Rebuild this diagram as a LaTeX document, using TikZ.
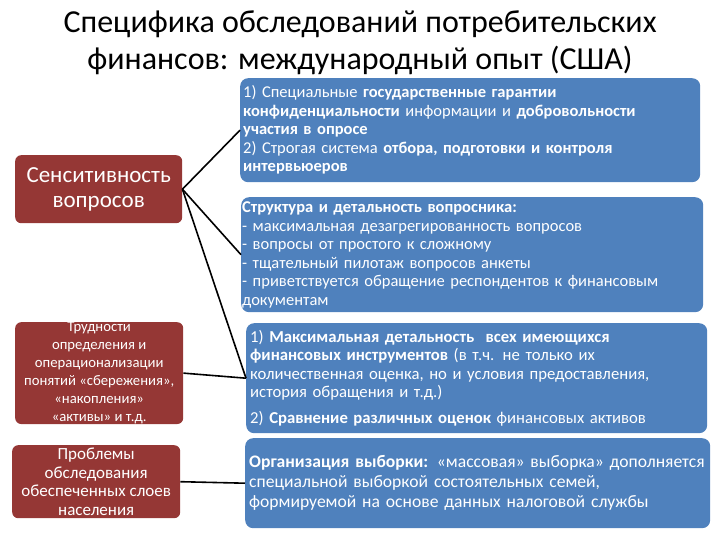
\documentclass[tikz,border=0pt]{standalone}
\usepackage{fontspec}
\setmainfont{Carlito}
\definecolor{boxblue}{HTML}{4F81BD}
\definecolor{boxred}{HTML}{953735}
\begin{document}
\begin{tikzpicture}[x=1pt, y=-1pt,
  redbox/.style={fill=boxred, rounded corners=6pt, text=white, align=center, anchor=north west, inner sep=0pt},
  bluebox/.style={fill=boxblue, rounded corners=8pt, text=white, align=left, anchor=north west, inner xsep=3pt, inner ysep=0pt},
  link/.style={line width=1.6pt}]
\useasboundingbox (0,0) rectangle (720,540);
\node[font=\fontsize{32}{37}\selectfont, align=center] (title) at (360,43) {Специфика обследований потребительских\\финансов: международный опыт (США)};

\node[redbox, minimum width=167pt, minimum height=68pt, font=\fontsize{23}{25}\selectfont] (sens) at (15,155) {Сенситивность\\вопросов};
\node[redbox, minimum width=168pt, minimum height=95pt, font=\fontsize{14.7}{18}\selectfont] (terms) at (15,322) {Трудности\\определения и\\операционализации\\понятий «сбережения»,\\«накопления»\\«активы» и т.д.};
\node[redbox, minimum width=168pt, minimum height=73pt, font=\fontsize{17}{18.5}\selectfont] (rich) at (12,445) {Проблемы\\обследования\\обеспеченных слоев\\населения};

\node[bluebox, text width=454pt, minimum height=104pt, font=\fontsize{16.5}{18.5}\selectfont] (guar) at (240,78) {1) Специальные \textbf{государственные гарантии}\\\textbf{конфиденциальности} информации и \textbf{добровольности}\\\textbf{участия в опросе}\\2) Строгая система \textbf{отбора, подготовки и контроля}\\\textbf{интервьюеров}};
\node[bluebox, inner xsep=1pt, text width=460pt, minimum height=115pt, font=\fontsize{16.5}{18.5}\selectfont] (struct) at (241,197) {\textbf{Структура и детальность вопросника:}\\- максимальная дезагрегированность вопросов\\- вопросы от простого к сложному\\- тщательный пилотаж вопросов анкеты\\- приветствуется обращение респондентов к финансовым\\документам};
\node[bluebox, inner xsep=4pt, text width=453pt, minimum height=110pt, font=\fontsize{16.7}{18.5}\selectfont] (detail) at (246,323) {1) \textbf{Максимальная детальность\ \ всех имеющихся}\\\textbf{финансовых инструментов} (в т.ч. не только их\\количественная оценка, но и условия предоставления,\\история обращения и т.д.)\\[7pt]2) \textbf{Сравнение различных оценок} финансовых активов};
\node[bluebox, inner xsep=4pt, text width=457pt, minimum height=90pt, font=\fontsize{17.6}{20}\selectfont] (sample) at (245,438) {\textbf{Организация выборки:} «массовая» выборка» дополняется\\специальной выборкой состоятельных семей,\\формируемой на основе данных налоговой службы};

\draw[link] (sens.east) -- (guar.west);
\draw[link] (sens.east) -- (struct.west);
\draw[link] (sens.east) -- (detail.west);
\draw[link] (terms.east) -- (detail.west);
\draw[link] (rich.east) -- (sample.west);
\end{tikzpicture}
\end{document}
